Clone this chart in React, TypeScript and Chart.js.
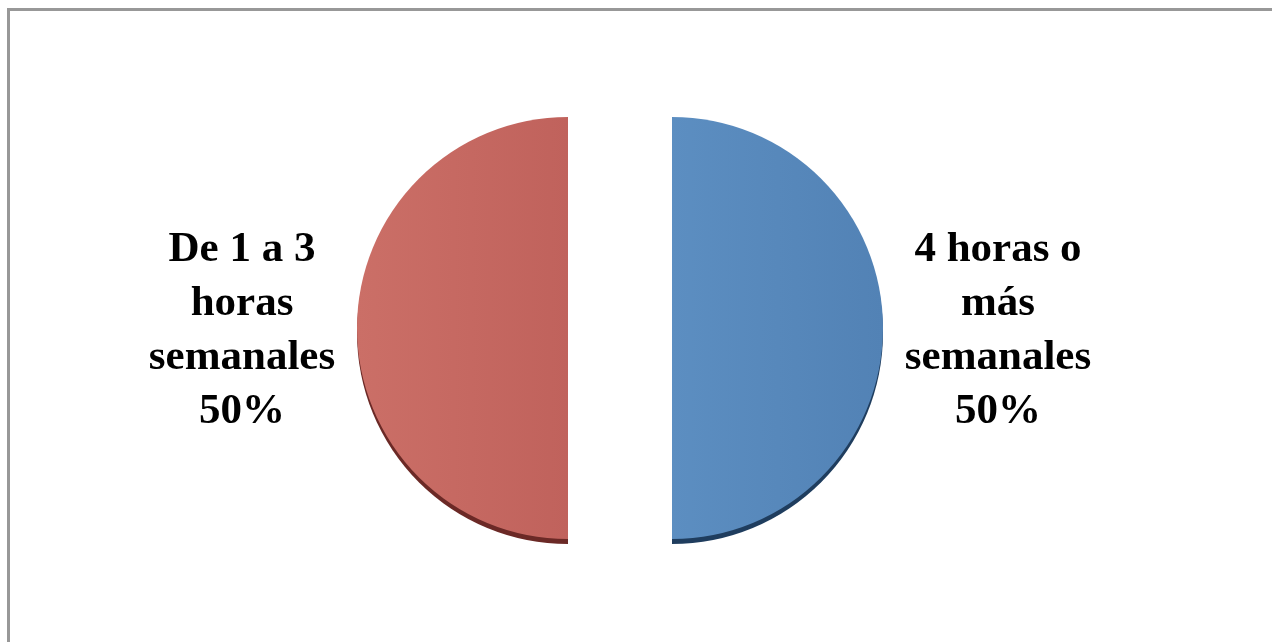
import React, { useEffect, useRef } from "react";
import { Chart, registerables } from "chart.js";

Chart.register(...registerables);

const categories = ["4 horas o más semanales", "De 1 a 3 horas semanales"];
const values = [50, 50];
const labelLines = [
  ["4 horas o", "más", "semanales"],
  ["De 1 a 3", "horas", "semanales"],
];
const faceLight = ["#5C8EC1", "#CB6F67"];
const faceDark = ["#5282B5", "#C0625C"];
const edgeColors = ["#1F3D5E", "#6B2926"];

export default function App() {
  const ref = useRef<HTMLCanvasElement | null>(null);

  useEffect(() => {
    const canvas = ref.current;
    if (!canvas) return;
    const EXPLODE = 52;
    const RADIUS = 211;
    const DEPTH = 5;

    const explodePlugin = {
      id: "explode3d",
      beforeDatasetsDraw(chart: any) {
        const ctx = chart.ctx;
        const meta = chart.getDatasetMeta(0);
        meta.data.forEach((arc: any, i: number) => {
          const { x, y, startAngle, endAngle, outerRadius } = arc.getProps(
            ["x", "y", "startAngle", "endAngle", "outerRadius"],
            true
          );
          const mid = (startAngle + endAngle) / 2;
          const dx = Math.cos(mid) * EXPLODE;
          const dy = Math.sin(mid) * EXPLODE;
          ctx.save();
          ctx.beginPath();
          ctx.moveTo(x + dx, y + dy + DEPTH);
          ctx.arc(x + dx, y + dy + DEPTH, outerRadius, startAngle, endAngle);
          ctx.closePath();
          ctx.fillStyle = edgeColors[i];
          ctx.fill();
          ctx.restore();
          if (!arc.__wrapped) {
            const orig = arc.draw;
            arc.draw = function (c: CanvasRenderingContext2D, area: any) {
              const m = (this.startAngle + this.endAngle) / 2;
              c.save();
              c.translate(Math.cos(m) * EXPLODE, Math.sin(m) * EXPLODE);
              orig.call(this, c, area);
              c.restore();
            };
            arc.__wrapped = true;
          }
        });
      },
    };

    const labelPlugin = {
      id: "sideLabels",
      afterDatasetsDraw(chart: any) {
        const ctx = chart.ctx;
        const meta = chart.getDatasetMeta(0);
        const data = chart.data.datasets[0].data as number[];
        const total = data.reduce((a, b) => a + b, 0);
        meta.data.forEach((arc: any, i: number) => {
          const { x, y, startAngle, endAngle, outerRadius } = arc.getProps(
            ["x", "y", "startAngle", "endAngle", "outerRadius"],
            true
          );
          const mid = (startAngle + endAngle) / 2;
          const dist = EXPLODE + outerRadius + 115;
          const lx = x + Math.cos(mid) * dist;
          const ly = y + Math.sin(mid) * dist + 3;
          const lines = [...labelLines[i], Math.round((data[i] / total) * 100) + "%"];
          ctx.save();
          ctx.font = 'bold 43px "Liberation Serif", "Times New Roman", serif';
          ctx.fillStyle = "#000000";
          ctx.textAlign = "center";
          ctx.textBaseline = "middle";
          const lh = 54;
          lines.forEach((t, k) => {
            ctx.fillText(t, lx, ly + (k - (lines.length - 1) / 2) * lh);
          });
          ctx.restore();
        });
      },
    };

    const chart = new Chart(canvas, {
      type: "pie",
      data: {
        labels: categories,
        datasets: [
          {
            data: values,
            backgroundColor: (c: any) => {
              const area = c.chart.chartArea;
              if (!area) return faceDark[c.dataIndex];
              const cx = (area.left + area.right) / 2;
              const right = c.dataIndex === 0;
              const g = c.chart.ctx.createLinearGradient(
                right ? cx : cx - RADIUS,
                0,
                right ? cx + RADIUS : cx,
                0
              );
              if (right) {
                g.addColorStop(0, faceLight[0]);
                g.addColorStop(1, faceDark[0]);
              } else {
                g.addColorStop(0, faceLight[1]);
                g.addColorStop(1, faceDark[1]);
              }
              return g;
            },
            borderWidth: 0,
            offset: 0,
          } as any,
        ],
      },
      options: {
        responsive: false,
        animation: false,
        radius: RADIUS,
        layout: { padding: { left: 0, right: 32, top: 14, bottom: 0 } },
        plugins: {
          legend: { display: false },
          tooltip: { enabled: false },
        },
      } as any,
      plugins: [explodePlugin, labelPlugin],
    });
    return () => chart.destroy();
  }, []);

  return (
    <div style={{ position: "fixed", left: 0, top: 0, width: 1272, height: 642, overflow: "hidden", background: "#ffffff" }}>
      <div
        style={{
          position: "absolute",
          left: 7,
          top: 8,
          width: 1400,
          height: 800,
          border: "3px solid #989898",
        }}
      />
      <canvas
        ref={ref}
        width={1272}
        height={642}
        style={{ position: "absolute", left: 0, top: 0, width: 1272, height: 642 }}
      />
    </div>
  );
}
